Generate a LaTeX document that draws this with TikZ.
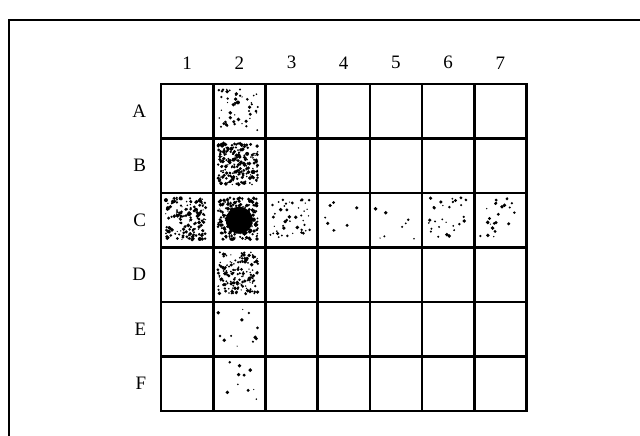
\documentclass[tikz,border=0pt]{standalone}
\usepackage{fontspec}
\setmainfont{Liberation Serif}
\usetikzlibrary{positioning,calc}

% random stipple inside one cell: #1 cell name, #2 number of dots
\newcommand{\speckles}[2]{%
  \foreach \k in {1,...,#2}{
    \pgfmathsetmacro{\u}{rnd}
    \pgfmathsetmacro{\v}{rnd}
    \pgfmathsetmacro{\s}{0.6+1.4*rnd}
    \fill ($(#1.north west)+({6+40*\u},{6+42*\v})$) circle (\s pt);
  }}

\begin{document}
\begin{tikzpicture}[x=1pt, y=-1pt,
    lbl/.style={font=\fontsize{19}{19}\selectfont},
    cell/.style={draw, rectangle, line width=2.6pt, minimum width=52.2pt, minimum height=54.5pt, inner sep=0pt}]
    \useasboundingbox (0,0) rectangle (640,436);
    \pgfmathsetseed{42}

    % frame
    \coordinate (ftr) at (640,20);
    \coordinate (fbl) at (9,436);
    \draw [line width=1.6pt] (ftr) -- (ftr -| fbl) -- (fbl);

    % grid
    \foreach \r [count=\i] in {A,B,C,D,E,F}
      \foreach \c in {1,...,7}
        \node [cell] (\r\c) at ({161+52.2*(\c-0.5)}, {84+54.5*(\i-0.5)}) {};

    \foreach \c in {1,...,7}
      \node [lbl, above=10pt of A\c] (col\c) {\c};
    \foreach \r in {A,...,F}
      \node [lbl, left=10pt of \r1] (row\r) {\r};

    % stippled cells
    \speckles{A2}{50}
    \speckles{B2}{230}
    \speckles{C1}{160}
    \speckles{C2}{230}
    \speckles{C3}{45}
    \speckles{C4}{8}
    \speckles{C5}{8}
    \speckles{C6}{30}
    \speckles{C7}{24}
    \speckles{D2}{170}
    \speckles{E2}{12}
    \speckles{F2}{10}

    % source
    \fill (C2) circle (13.5pt);
\end{tikzpicture}
\end{document}
